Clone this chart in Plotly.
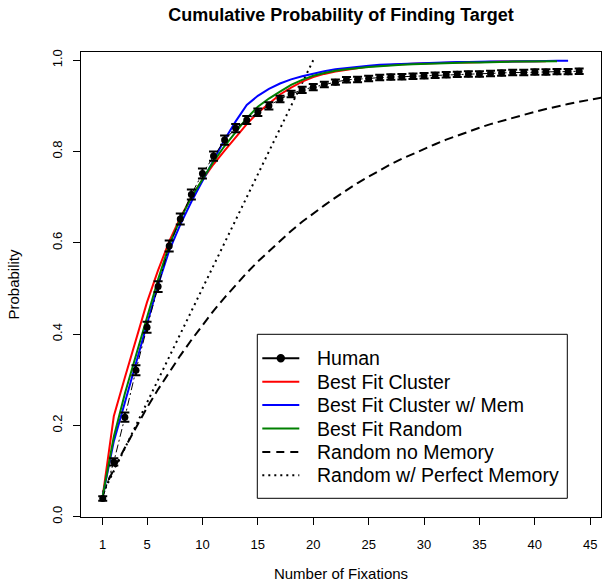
import plotly.graph_objects as go

# ---------------- data ----------------
human_x = list(range(1, 45))
human_y = [0.040, 0.120, 0.218, 0.321, 0.415, 0.504, 0.593, 0.652, 0.706, 0.752,
           0.790, 0.825, 0.851, 0.869, 0.886, 0.900, 0.915, 0.926, 0.935, 0.941,
           0.947, 0.952, 0.957, 0.958, 0.960, 0.962, 0.963, 0.964, 0.965, 0.966,
           0.967, 0.968, 0.969, 0.970, 0.970, 0.971, 0.972, 0.973, 0.973, 0.974,
           0.974, 0.975, 0.975, 0.976]
human_err = [0.005, 0.008, 0.010, 0.011, 0.012, 0.012, 0.012, 0.012, 0.011, 0.011,
             0.010, 0.010, 0.009, 0.009, 0.008, 0.008, 0.007, 0.007, 0.007, 0.007,
             0.006, 0.006, 0.006, 0.006, 0.006, 0.006, 0.006, 0.006, 0.006, 0.006,
             0.006, 0.006, 0.006, 0.006, 0.006, 0.006, 0.006, 0.006, 0.006, 0.006,
             0.006, 0.006, 0.006, 0.006]

cluster_x = list(range(1, 42))
cluster_y = [0.045, 0.220, 0.305, 0.390, 0.470, 0.540, 0.603, 0.655, 0.700, 0.738,
             0.772, 0.802, 0.830, 0.860, 0.885, 0.906, 0.925, 0.940, 0.953, 0.963,
             0.970, 0.975, 0.979, 0.983, 0.986, 0.988, 0.990, 0.991, 0.992, 0.993,
             0.994, 0.994, 0.995, 0.995, 0.996, 0.996, 0.997, 0.997, 0.997, 0.998,
             0.998]

clustermem_x = list(range(1, 44))
clustermem_y = [0.045, 0.165, 0.250, 0.335, 0.425, 0.508, 0.583, 0.640, 0.690, 0.735,
                0.780, 0.826, 0.866, 0.902, 0.922, 0.937, 0.949, 0.958, 0.965, 0.971,
                0.976, 0.980, 0.983, 0.986, 0.988, 0.990, 0.991, 0.992, 0.993, 0.994,
                0.995, 0.995, 0.996, 0.996, 0.997, 0.997, 0.997, 0.998, 0.998, 0.998,
                0.999, 0.999, 0.999]

random_x = list(range(1, 43))
random_y = [0.045, 0.175, 0.270, 0.355, 0.440, 0.520, 0.595, 0.652, 0.700, 0.740,
            0.778, 0.812, 0.843, 0.873, 0.898, 0.916, 0.931, 0.946, 0.957, 0.966,
            0.972, 0.977, 0.980, 0.983, 0.985, 0.987, 0.989, 0.990, 0.991, 0.992,
            0.993, 0.994, 0.994, 0.995, 0.995, 0.996, 0.996, 0.997, 0.997, 0.997,
            0.998, 0.998]

nomem_x = list(range(1, 51))
nomem_y = [0.053, 0.104, 0.151, 0.196, 0.239, 0.279, 0.317, 0.353, 0.387, 0.420,
           0.451, 0.480, 0.508, 0.534, 0.559, 0.582, 0.604, 0.626, 0.646, 0.665,
           0.682, 0.699, 0.715, 0.731, 0.745, 0.759, 0.772, 0.784, 0.795, 0.806,
           0.816, 0.826, 0.835, 0.844, 0.852, 0.860, 0.867, 0.874, 0.881, 0.887,
           0.893, 0.899, 0.904, 0.909, 0.914, 0.919, 0.923, 0.927, 0.931, 0.935]

perfmem_x = list(range(1, 21))
perfmem_y = [0.05, 0.10, 0.15, 0.20, 0.25, 0.30, 0.35, 0.40, 0.45, 0.50,
             0.55, 0.60, 0.65, 0.70, 0.75, 0.80, 0.85, 0.90, 0.95, 1.00]

x_ticks = [1, 5, 10, 15, 20, 25, 30, 35, 40, 45]
y_ticks = [0.0, 0.2, 0.4, 0.6, 0.8, 1.0]
y_ticklabels = ["0.0", "0.2", "0.4", "0.6", "0.8", "1.0"]

legend_labels = ["Human", "Best Fit Cluster", "Best Fit Cluster w/ Mem",
                 "Best Fit Random", "Random no Memory", "Random w/ Perfect Memory"]

FONT = "Liberation Sans, Arial, Helvetica, sans-serif"

fig = go.Figure()

fig.add_trace(go.Scatter(x=nomem_x, y=nomem_y, mode="lines",
                         line=dict(color="black", width=2, dash="9px,5px"),
                         name=legend_labels[4], showlegend=False))
fig.add_trace(go.Scatter(x=perfmem_x, y=perfmem_y, mode="lines",
                         line=dict(color="black", width=2, dash="2px,4px"),
                         name=legend_labels[5], showlegend=False))
fig.add_trace(go.Scatter(x=cluster_x, y=cluster_y, mode="lines",
                         line=dict(color="#ff0000", width=2),
                         name=legend_labels[1], showlegend=False))
fig.add_trace(go.Scatter(x=clustermem_x, y=clustermem_y, mode="lines",
                         line=dict(color="#0000ff", width=2),
                         name=legend_labels[2], showlegend=False))
fig.add_trace(go.Scatter(x=random_x, y=random_y, mode="lines",
                         line=dict(color="#008000", width=2),
                         name=legend_labels[3], showlegend=False))
fig.add_trace(go.Scatter(x=human_x, y=human_y, mode="lines+markers",
                         line=dict(color="black", width=1, dash="8px,3px,2px,3px"),
                         marker=dict(color="black", size=7),
                         error_y=dict(type="data", array=human_err, color="black",
                                      thickness=2, width=4.5),
                         name=legend_labels[0], showlegend=False))

# ---------------- manual legend (R-style box) ----------------
L, T, W, H = 81, 52, 520, 465          # plot area in px


def px(xp):
    return (xp - L) / W


def py(yp):
    return (T + H - yp) / H


shapes = [dict(type="rect", xref="paper", yref="paper",
               x0=px(257.3), x1=px(567.3), y0=py(334.3), y1=py(498.3),
               line=dict(color="black", width=1), fillcolor="white", layer="above")]
annotations = []
styles = [dict(color="black", width=2),
          dict(color="#ff0000", width=2),
          dict(color="#0000ff", width=2),
          dict(color="#008000", width=2),
          dict(color="black", width=2, dash="8px,6px"),
          dict(color="black", width=2, dash="2px,4px")]
for i, (lab, st) in enumerate(zip(legend_labels, styles)):
    yc = 358.3 + i * 23.4
    shapes.append(dict(type="line", xref="paper", yref="paper",
                       x0=px(262.3), x1=px(299.3), y0=py(yc), y1=py(yc),
                       line=st, layer="above"))
    if i == 0:
        shapes.append(dict(type="circle", xref="paper", yref="paper",
                           x0=px(280.8 - 4.2), x1=px(280.8 + 4.2),
                           y0=py(yc - 4.2), y1=py(yc + 4.2),
                           fillcolor="black", line=dict(color="black", width=0),
                           layer="above"))
    annotations.append(dict(text=lab, xref="paper", yref="paper",
                            x=px(315), y=py(yc), xanchor="left", yanchor="middle",
                            showarrow=False, font=dict(size=19.5, family=FONT)))

fig.update_layout(
    width=602, height=588,
    margin=dict(l=81, r=1, t=52, b=71),
    plot_bgcolor="white", paper_bgcolor="white",
    font=dict(family=FONT, color="black", size=13),
    title=dict(text="<b>Cumulative Probability of Finding Target</b>",
               x=341 / 602, xanchor="center", y=1 - 15 / 588, yanchor="middle",
               font=dict(size=18, family=FONT)),
    showlegend=False,
    shapes=shapes,
    annotations=annotations,
    xaxis=dict(range=[-0.96, 45.97], tickmode="array", tickvals=x_ticks,
               ticks="outside", ticklen=7, tickwidth=1, tickcolor="black",
               showline=True, linecolor="black", linewidth=1, mirror=True,
               showgrid=False, zeroline=False, ticklabelstandoff=8,
               title=dict(text="Number of Fixations", standoff=17,
                          font=dict(size=15))),
    yaxis=dict(range=[-0.0007, 1.018], tickmode="array", tickvals=y_ticks,
               ticktext=y_ticklabels, tickangle=-90,
               ticks="outside", ticklen=7, tickwidth=1, tickcolor="black",
               showline=True, linecolor="black", linewidth=1, mirror=True,
               showgrid=False, zeroline=False, ticklabelstandoff=6,
               title=dict(text="Probability", standoff=26, font=dict(size=15))),
)

fig.write_html("out.html")
